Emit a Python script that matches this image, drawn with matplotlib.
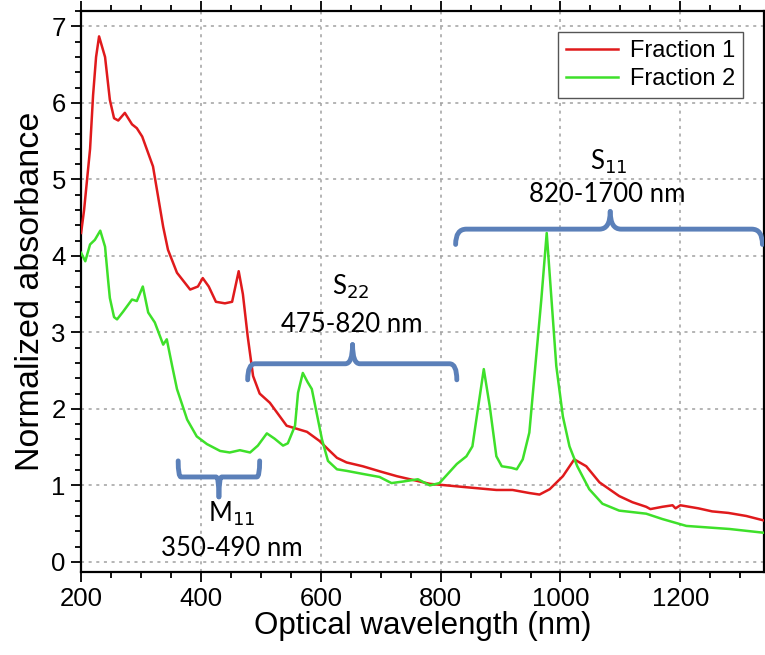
import matplotlib
matplotlib.use("Agg")
import matplotlib.pyplot as plt
from matplotlib.path import Path
from matplotlib.patches import PathPatch
from matplotlib.ticker import MultipleLocator

# Fraction 1 (red)
wl_1 = [200, 205, 210, 215, 220, 225, 230, 240, 248, 255, 262, 273, 285, 293, 302,
        320, 337, 345, 360, 382, 395, 403, 413, 425, 440, 452, 463, 470, 478, 487,
        498, 515, 543, 577, 598, 615, 627, 643, 670, 700, 727, 760, 782, 810, 837,
        865, 893, 920, 948, 965, 982, 1004, 1023, 1043, 1065, 1098, 1120, 1143, 1150,
        1170, 1187, 1192, 1200, 1230, 1253, 1280, 1310, 1340]
abs_1 = [4.30, 4.60, 5.00, 5.40, 6.10, 6.60, 6.87, 6.60, 6.04, 5.80, 5.77, 5.87, 5.72,
         5.67, 5.56, 5.17, 4.38, 4.08, 3.78, 3.56, 3.60, 3.71, 3.60, 3.40, 3.38, 3.40,
         3.80, 3.50, 2.95, 2.43, 2.20, 2.08, 1.78, 1.70, 1.58, 1.45, 1.36, 1.30, 1.25,
         1.18, 1.12, 1.06, 1.02, 1.00, 0.98, 0.96, 0.94, 0.94, 0.90, 0.88, 0.95, 1.12,
         1.34, 1.25, 1.04, 0.86, 0.78, 0.72, 0.69, 0.72, 0.74, 0.70, 0.74, 0.70, 0.66,
         0.64, 0.60, 0.54]

# Fraction 2 (green)
wl_2 = [200, 207, 215, 223, 232, 240, 245, 248, 255, 260, 270, 285, 293, 303, 312,
        323, 337, 343, 352, 360, 377, 393, 410, 432, 448, 465, 482, 495, 510, 523,
        537, 545, 557, 562, 570, 578, 585, 593, 602, 612, 627, 643, 670, 698, 718,
        737, 762, 782, 798, 827, 843, 853, 862, 872, 882, 893, 902, 918, 927, 937,
        948, 958, 968, 977, 985, 993, 1004, 1015, 1028, 1048, 1070, 1098, 1143, 1170,
        1210, 1282, 1340]
abs_2 = [4.04, 3.93, 4.15, 4.21, 4.33, 4.12, 3.69, 3.45, 3.20, 3.17, 3.27, 3.43, 3.41,
         3.60, 3.26, 3.13, 2.84, 2.91, 2.56, 2.26, 1.86, 1.64, 1.54, 1.45, 1.43, 1.46,
         1.43, 1.52, 1.68, 1.61, 1.52, 1.55, 1.78, 2.21, 2.47, 2.35, 2.26, 1.95, 1.60,
         1.32, 1.21, 1.19, 1.15, 1.11, 1.03, 1.05, 1.08, 1.00, 1.03, 1.28, 1.38, 1.51,
         1.99, 2.52, 2.03, 1.38, 1.25, 1.23, 1.21, 1.34, 1.69, 2.56, 3.43, 4.30, 3.43,
         2.56, 1.90, 1.51, 1.25, 0.95, 0.76, 0.67, 0.63, 0.56, 0.47, 0.43, 0.38]

labels = ["Fraction 1", "Fraction 2"]
axfont = "Liberation Sans"
notefont = ["Lato", "DejaVu Sans"]
brace_col = "#5b80b9"


def brace(ax, x0, x1, xt, ybar, yend, ytip):
    # curly bracket made of two halves meeting at the tip
    rx = (x1 - x0) * 0.035
    for xe, s in ((x0, 1), (x1, -1)):
        verts = [(xe, yend), (xe, ybar), (xe + s * rx, ybar),
                 (xt - s * rx, ybar), (xt, ybar), (xt, ytip)]
        codes = [Path.MOVETO, Path.CURVE3, Path.CURVE3,
                 Path.LINETO, Path.CURVE3, Path.CURVE3]
        ax.add_patch(PathPatch(Path(verts, codes), fill=False, ec=brace_col,
                               lw=3.5, capstyle="round", joinstyle="round", zorder=4))


fig = plt.figure(figsize=(7.65, 6.55), dpi=100)
ax = fig.add_axes([0.106, 0.127, 0.893, 0.856])

ax.plot(wl_1, abs_1, color="#e01a1c", lw=1.8, label=labels[0], zorder=3)
ax.plot(wl_2, abs_2, color="#3ee02a", lw=1.8, label=labels[1], zorder=3)

ax.set_xlim(200, 1340)
ax.set_ylim(-0.13, 7.2)
ax.xaxis.set_major_locator(MultipleLocator(200))
ax.xaxis.set_minor_locator(MultipleLocator(50))
ax.yaxis.set_major_locator(MultipleLocator(1))
ax.yaxis.set_minor_locator(MultipleLocator(0.2))
ax.tick_params(which="both", direction="out", top=True, right=True, width=1.3)
ax.tick_params(which="major", length=7, labelsize=18.5, pad=4)
ax.tick_params(which="minor", length=4)
for lab in ax.get_xticklabels() + ax.get_yticklabels():
    lab.set_family(axfont)
for sp in ax.spines.values():
    sp.set_linewidth(1.6)
ax.grid(True, which="major", ls=(0, (2, 3)), color="#a0a0a0", lw=1.1)

ax.set_xlabel("Optical wavelength (nm)", fontsize=22.5, family=axfont, labelpad=0)
ax.set_ylabel("Normalized absorbance", fontsize=24.5, family=axfont, labelpad=4)

leg = ax.legend(loc="upper right", bbox_to_anchor=(0.969, 0.963), borderaxespad=0,
                prop={"family": axfont, "size": 17}, fancybox=False,
                edgecolor="#555555", framealpha=1, handlelength=2.2,
                borderpad=0.35, labelspacing=0.25, handletextpad=0.5)
leg.get_frame().set_linewidth(1.0)

# band annotations
brace(ax, 362, 498, 430, 1.11, 1.32, 0.85)
ax.text(452, 0.53, r"M$_{11}$", ha="center", va="baseline", fontsize=18.5, family=notefont)
ax.text(452, 0.17, "350-490 nm", ha="center", va="center", fontsize=18.5, family=notefont)

brace(ax, 478, 827, 653, 2.59, 2.38, 2.84)
ax.text(650, 3.50, r"S$_{22}$", ha="center", va="baseline", fontsize=18.5, family=notefont)
ax.text(652, 3.10, "475-820 nm", ha="center", va="center", fontsize=18.5, family=notefont)

brace(ax, 825, 1337, 1083, 4.35, 4.15, 4.58)
ax.text(1080, 5.13, r"S$_{11}$", ha="center", va="baseline", fontsize=18.5, family=notefont)
ax.text(1078, 4.80, "820-1700 nm", ha="center", va="center", fontsize=18.5, family=notefont)

fig.savefig("out.png", dpi=100)
